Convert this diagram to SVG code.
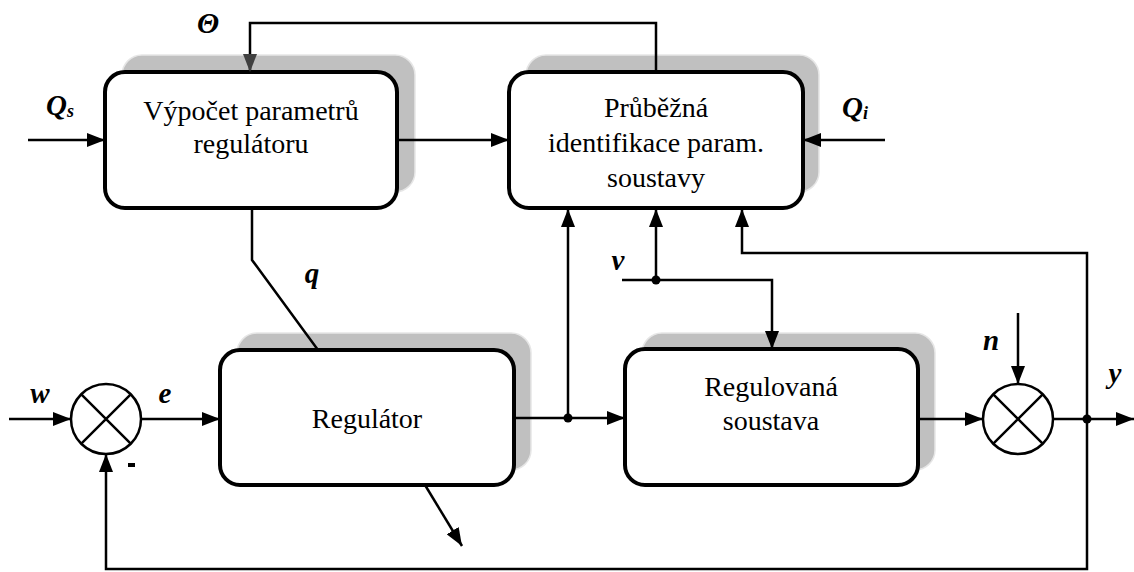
<svg xmlns="http://www.w3.org/2000/svg" width="1134" height="572" viewBox="0 0 1134 572">
<defs>
<style>
.sh{fill:#c0c0c0;stroke:#e6e6e6;stroke-width:1.5}
.bx{fill:#fff;stroke:#000;stroke-width:4}
.t{font-family:'Liberation Serif','DejaVu Serif',serif;font-size:28px;fill:#000;text-anchor:middle}
.lb{font-family:'Liberation Serif','DejaVu Serif',serif;font-size:29px;font-style:italic;font-weight:bold;fill:#000}
.c{fill:none;stroke:#000;stroke-width:2.5}
.a{marker-end:url(#ah)}
.sj{fill:#fff;stroke:#000;stroke-width:2.5}
</style>
<marker id="ah" markerUnits="userSpaceOnUse" markerWidth="18" markerHeight="14" refX="18" refY="7" orient="auto" viewBox="0 0 18 14">
<path d="M0,0 L18,7 L0,14 z" fill="#000"/>
</marker>
<marker id="ahg" markerUnits="userSpaceOnUse" markerWidth="18" markerHeight="14" refX="18" refY="7" orient="auto" viewBox="0 0 18 14">
<path d="M0,0 L18,7 L0,14 z" fill="#404040"/>
</marker>
</defs>
<rect width="1134" height="572" fill="#fff"/>

<g id="vypocet">
<rect class="sh" x="122" y="55" width="293" height="137" rx="20"/>
<rect class="bx" x="105" y="72" width="292" height="136" rx="20"/>
<text class="t" font-family="'Liberation Serif', serif" x="251" y="120">Výpočet parametrů</text>
<text class="t" font-family="'Liberation Serif', serif" x="251" y="153">regulátoru</text>
</g>

<g id="identifikace">
<rect class="sh" x="526" y="55" width="293" height="137" rx="20"/>
<rect class="bx" x="509" y="72" width="294" height="136" rx="20"/>
<text class="t" x="656" y="117">Průběžná</text>
<text class="t" x="656" y="152">identifikace param.</text>
<text class="t" x="656" y="187">soustavy</text>
</g>

<g id="regulator">
<rect class="sh" x="237" y="333" width="294" height="137" rx="20"/>
<rect class="bx" x="220" y="350" width="294" height="135" rx="20"/>
<text class="t" x="367" y="428">Regulátor</text>
</g>

<g id="soustava">
<rect class="sh" x="642" y="333" width="293" height="137" rx="20"/>
<rect class="bx" x="625" y="349" width="293" height="136" rx="20"/>
<text class="t" x="771" y="396">Regulovaná</text>
<text class="t" x="771" y="430">soustava</text>
</g>

<g id="connectors">
<path class="c a" d="M28,140 H105"/>
<path class="c a" d="M397,140 H509"/>
<path class="c a" d="M885,140 H803"/>
<path class="c" d="M656,72 V23 H250 V72" stroke-width="2.2" marker-end="url(#ahg)"/>
<path class="c" d="M252,208 V260 L318,350"/>
<path class="c a" d="M9,419 H71"/>
<path class="c a" d="M141,419 H220"/>
<path class="c a" d="M514,418 H625"/>
<path class="c a" d="M568,418 V209"/>
<path class="c a" d="M622,280 H772 V349"/>
<path class="c a" d="M656,280 V209"/>
<path class="c a" d="M918,419 H983"/>
<path class="c a" d="M1018,313 V384"/>
<path class="c a" d="M1053,419 H1134"/>
<path class="c a" d="M1087,419 V253 H742 V209"/>
<path class="c a" d="M1087,419 V569 H106 V454"/>
<path class="c a" d="M425,485 L462,546"/>
<circle cx="568" cy="418" r="4.5"/>
<circle cx="656" cy="280" r="4.5"/>
<circle cx="1087" cy="419" r="4.5"/>
</g>

<g id="sum1">
<circle class="sj" cx="106" cy="419" r="35"/>
<path class="c" d="M81.3,394.3 L130.7,443.7 M130.7,394.3 L81.3,443.7"/>
</g>

<g id="sum2">
<circle class="sj" cx="1018" cy="419" r="35"/>
<path class="c" d="M993.3,394.3 L1042.7,443.7 M1042.7,394.3 L993.3,443.7"/>
</g>

<g id="labels">
<text class="lb" x="208" y="33" text-anchor="middle" font-weight="normal">Θ</text>
<text class="lb" x="46" y="115">Q<tspan font-size="18" dy="2">s</tspan></text>
<text class="lb" x="842" y="117">Q<tspan font-size="18" dy="2">i</tspan></text>
<text class="lb" x="312" y="283" text-anchor="middle">q</text>
<text class="lb" x="618" y="270" text-anchor="middle">v</text>
<text class="lb" x="40" y="403" text-anchor="middle">w</text>
<text class="lb" x="165" y="403" text-anchor="middle">e</text>
<text class="lb" x="991" y="350" text-anchor="middle">n</text>
<text class="lb" x="1115" y="383" text-anchor="middle">y</text>
<rect x="128" y="463" width="7" height="4" fill="#000"/>
</g>
</svg>
